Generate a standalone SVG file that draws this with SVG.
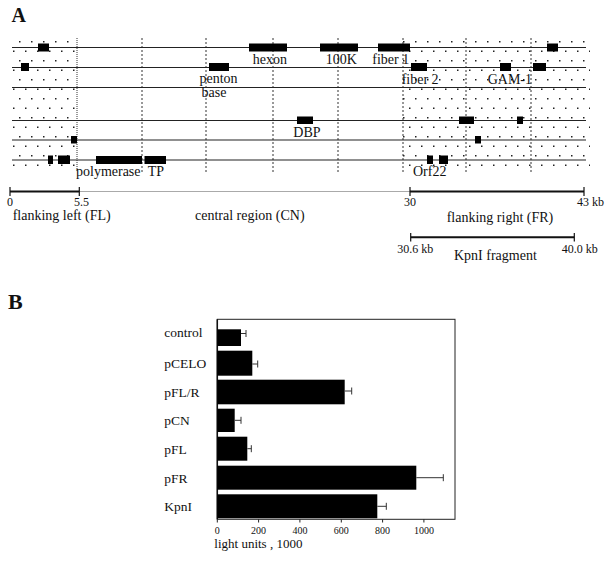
<svg xmlns="http://www.w3.org/2000/svg" width="613" height="563" viewBox="0 0 613 563">
<style>
text{font-family:"Liberation Serif","Times New Roman",serif;fill:#111}
.lbl{font-size:14px}
.sm{font-size:12px}
.tk{font-size:10px}
.hd{font-size:20px;font-weight:bold}
.row{stroke:#222;stroke-width:1.2}
.vd{stroke:#333;stroke-width:1;stroke-dasharray:2,2}
.gene{fill:#000}
.bar{fill:#000}
.err{stroke:#333;stroke-width:1;fill:none}
.scl{stroke:#111;stroke-width:2}
.dot{fill:#222}
</style>
<defs>
<pattern id="dots" patternUnits="userSpaceOnUse" x="14" y="38" width="12" height="19">
<rect class="dot" x="5" y="3" width="1.5" height="1.5"/>
<rect class="dot" x="11" y="12.5" width="1.5" height="1.5"/>
<rect class="dot" x="-1" y="12.5" width="1.5" height="1.5"/>
</pattern>
</defs>
<rect width="613" height="563" fill="#fff"/>
<text class="hd" x="11.5" y="21.5">A</text>
<text class="hd" x="8" y="309" style="font-size:22px">B</text>

<g id="flank-regions">
<rect x="12" y="40" width="65" height="133" fill="url(#dots)"/>
<rect x="403" y="40" width="187" height="133" fill="url(#dots)"/>
</g>

<g id="dividers">
<line x1="77" y1="38" x2="77" y2="172" class="vd" style="stroke-dasharray:1,1"/>
<line x1="142" y1="38" x2="142" y2="172" class="vd"/>
<line x1="206" y1="38" x2="206" y2="172" class="vd"/>
<line x1="273" y1="38" x2="273" y2="172" class="vd"/>
<line x1="338" y1="38" x2="338" y2="172" class="vd"/>
<line x1="403" y1="38" x2="403" y2="172" class="vd"/>
<line x1="466" y1="38" x2="466" y2="172" class="vd"/>
<line x1="531" y1="38" x2="531" y2="172" class="vd"/>
</g>

<g id="rows">
<line x1="12" y1="47.5" x2="586" y2="47.5" class="row"/>
<line x1="12" y1="67.5" x2="586" y2="67.5" class="row"/>
<line x1="12" y1="87.5" x2="586" y2="87.5" class="row"/>
<line x1="12" y1="120.5" x2="586" y2="120.5" class="row"/>
<line x1="12" y1="140" x2="586" y2="140" class="row"/>
<line x1="12" y1="160" x2="586" y2="160" class="row"/>
</g>

<g id="genes">
<rect class="gene" x="38" y="43.5" width="11" height="8"/>
<rect class="gene" x="249" y="43.5" width="38" height="8"/>
<rect class="gene" x="320" y="43.5" width="38" height="8"/>
<rect class="gene" x="378" y="43.5" width="32" height="8"/>
<rect class="gene" x="547" y="43.5" width="11" height="8"/>
<rect class="gene" x="21" y="63" width="8" height="8"/>
<rect class="gene" x="209" y="63" width="20" height="8"/>
<rect class="gene" x="411" y="63" width="16" height="8"/>
<rect class="gene" x="500" y="63" width="11" height="8"/>
<rect class="gene" x="533" y="63" width="13" height="8"/>
<rect class="gene" x="297" y="116.5" width="16" height="7.5"/>
<rect class="gene" x="459" y="116.5" width="15" height="7.5"/>
<rect class="gene" x="517" y="116.5" width="6" height="7.5"/>
<rect class="gene" x="71" y="136" width="6" height="7.5"/>
<rect class="gene" x="475" y="136" width="6" height="7.5"/>
<rect class="gene" x="48" y="155.5" width="5" height="8.5"/>
<rect class="gene" x="58" y="155.5" width="12" height="8.5"/>
<rect class="gene" x="96" y="156" width="46" height="8"/>
<rect class="gene" x="144.5" y="156" width="21.5" height="8"/>
<rect class="gene" x="427" y="155.5" width="6" height="8.5"/>
<rect class="gene" x="439" y="155.5" width="9" height="8.5"/>
</g>

<g id="gene-labels">
<text class="lbl" x="252.7" y="63.5">hexon</text>
<text class="lbl" x="325.7" y="64">100K</text>
<text class="lbl" x="372.3" y="64">fiber 1</text>
<text class="lbl" x="199.5" y="83">penton</text>
<text class="lbl" x="201.5" y="97">base</text>
<text class="lbl" x="401.7" y="83.5">fiber 2</text>
<text class="lbl" x="487.7" y="83.5">GAM-1</text>
<text class="lbl" x="293.3" y="137">DBP</text>
<text class="lbl" x="76" y="176">polymerase</text>
<text class="lbl" x="147.7" y="176">TP</text>
<text class="lbl" x="413" y="176">Orf22</text>
</g>

<g id="scale">
<line x1="10" y1="191.5" x2="79.3" y2="191.5" class="scl"/>
<line x1="79.3" y1="191.5" x2="410" y2="191.5" stroke="#aaa" stroke-width="1"/>
<line x1="410" y1="191.5" x2="584" y2="191.5" class="scl"/>
<line x1="10" y1="187" x2="10" y2="196" stroke="#111" stroke-width="1.2"/>
<line x1="79.3" y1="187" x2="79.3" y2="196" stroke="#111" stroke-width="1.2"/>
<line x1="410" y1="187" x2="410" y2="196" stroke="#111" stroke-width="1.2"/>
<line x1="584" y1="187" x2="584" y2="196" stroke="#111" stroke-width="1.2"/>
<text class="sm" x="10" y="206" text-anchor="middle">0</text>
<text class="sm" x="74" y="206">5.5</text>
<text class="sm" x="410" y="206" text-anchor="middle">30</text>
<text class="sm" x="577" y="206">43 kb</text>
<text class="lbl" x="12.7" y="220">flanking left (FL)</text>
<text class="lbl" x="195" y="220">central region (CN)</text>
<text class="lbl" x="446.7" y="221.5">flanking right (FR)</text>
</g>

<g id="kpni-fragment">
<line x1="410.7" y1="237.3" x2="574.3" y2="237.3" class="scl"/>
<line x1="410.7" y1="233" x2="410.7" y2="241.5" stroke="#111" stroke-width="1.2"/>
<line x1="574.3" y1="233" x2="574.3" y2="241.5" stroke="#111" stroke-width="1.2"/>
<text class="sm" x="397.3" y="253">30.6 kb</text>
<text class="sm" x="561.7" y="253">40.0 kb</text>
<text class="lbl" x="454" y="260">KpnI fragment</text>
</g>

<g id="chart">
<rect x="217.3" y="319.3" width="237.7" height="200" fill="none" stroke="#222" stroke-width="1"/>
<line x1="217.3" y1="319.3" x2="217.3" y2="519.3" stroke="#111" stroke-width="1.5"/>
<g id="bars">
<rect class="bar" x="217.3" y="329.3" width="23.7" height="16.7"/>
<rect class="bar" x="217.3" y="350.7" width="35" height="25"/>
<rect class="bar" x="217.3" y="379.7" width="127.4" height="24.6"/>
<rect class="bar" x="217.3" y="408.7" width="17.4" height="23.3"/>
<rect class="bar" x="217.3" y="436.7" width="30" height="24"/>
<rect class="bar" x="217.3" y="465.7" width="199" height="24"/>
<rect class="bar" x="217.3" y="494.3" width="160" height="24"/>
</g>
<g id="errorbars">
<path class="err" d="M241 333.5H246M246 330V337"/>
<path class="err" d="M252.3 364H257.7M257.7 360.5V367.5"/>
<path class="err" d="M344.7 391H351.7M351.7 387.5V394.5"/>
<path class="err" d="M234.7 420.3H241M241 416.8V423.8"/>
<path class="err" d="M247.3 448.7H251.3M251.3 445.2V452.2"/>
<path class="err" d="M416.3 477.7H443.3M443.3 474.2V481.2"/>
<path class="err" d="M377.3 506.3H386.3M386.3 502.8V509.8"/>
</g>
<g id="bar-labels">
<text x="164.3" y="337.3" style="font-size:13.5px">control</text>
<text x="164.3" y="368.2" style="font-size:13.5px">pCELO</text>
<text x="164.3" y="397" style="font-size:13.5px">pFL/R</text>
<text x="164.3" y="425.3" style="font-size:13.5px">pCN</text>
<text x="164.3" y="453.7" style="font-size:13.5px">pFL</text>
<text x="164.3" y="482.7" style="font-size:13.5px">pFR</text>
<text x="164.3" y="511.3" style="font-size:13.5px">KpnI</text>
</g>
<g id="x-axis">
<path d="M217.3 519.3V522.5M258.6 519.3V522.5M299.9 519.3V522.5M341.3 519.3V522.5M382.6 519.3V522.5M423.9 519.3V522.5" stroke="#222" stroke-width="1"/>
<text class="tk" x="217.3" y="534.3" text-anchor="middle">0</text>
<text class="tk" x="258.6" y="534.3" text-anchor="middle">200</text>
<text class="tk" x="299.9" y="534.3" text-anchor="middle">400</text>
<text class="tk" x="341.3" y="534.3" text-anchor="middle">600</text>
<text class="tk" x="382.6" y="534.3" text-anchor="middle">800</text>
<text class="tk" x="423.9" y="534.3" text-anchor="middle">1000</text>
<text x="214.3" y="548.3" style="font-size:13px">light units , 1000</text>
</g>
</g>
</svg>
